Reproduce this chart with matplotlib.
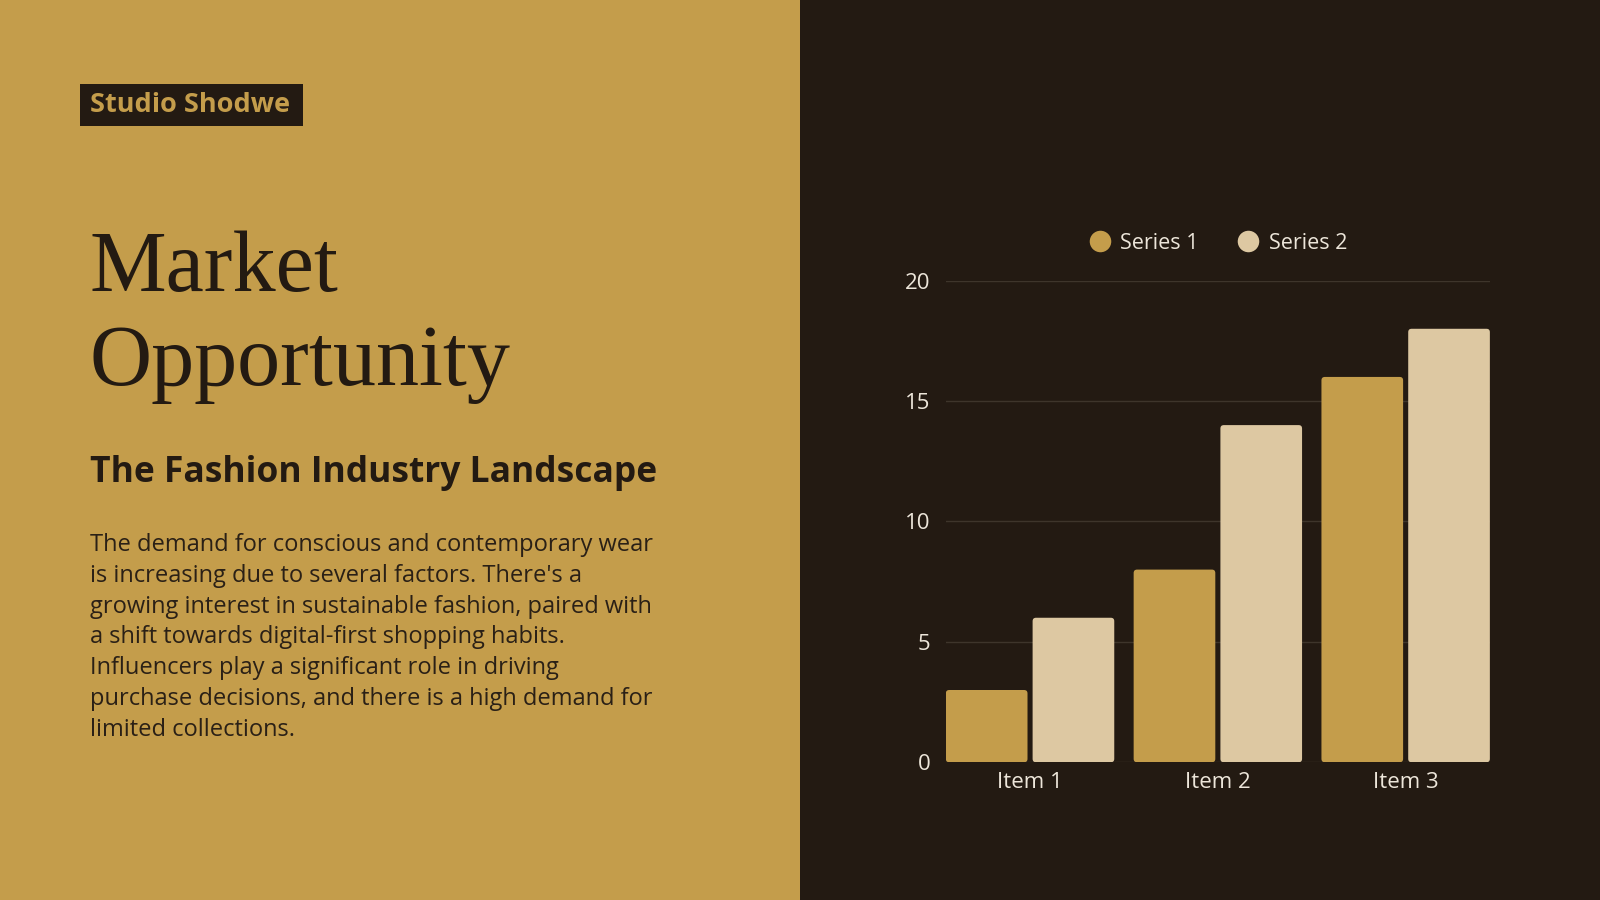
import matplotlib.pyplot as plt
from matplotlib.patches import Rectangle, FancyBboxPatch
from matplotlib.lines import Line2D
import numpy as np

# data
items = ["Item 1", "Item 2", "Item 3"]
series_1 = [3, 8, 16]
series_2 = [6, 14, 18]
series_names = ["Series 1", "Series 2"]
y_ticks = [0, 5, 10, 15, 20]

body_lines = [
    "The demand for conscious and contemporary wear",
    "is increasing due to several factors. There's a",
    "growing interest in sustainable fashion, paired with",
    "a shift towards digital-first shopping habits.",
    "Influencers play a significant role in driving",
    "purchase decisions, and there is a high demand for",
    "limited collections.",
]

GOLD = "#C49D4B"
DARK = "#231A12"
CREAM = "#DDC8A2"
TEXT_LIGHT = "#EDE6DA"
GRID = "#3E352B"

W, H = 1568, 882


def fx(x):
    return x / W


def fy(y):
    return 1 - y / H


plt.rcParams['font.family'] = ['Open Sans', 'DejaVu Sans']

fig = plt.figure(figsize=(16, 9), dpi=100)
fig.patch.set_facecolor(DARK)

# left panel
fig.patches.append(Rectangle((0, 0), 0.5, 1, transform=fig.transFigure,
                             facecolor=GOLD, edgecolor="none", zorder=0))

# brand tag
fig.patches.append(Rectangle((fx(78), fy(123)), fx(297) - fx(78), fy(82) - fy(123),
                             transform=fig.transFigure, facecolor=DARK,
                             edgecolor="none", zorder=1))
fig.text(fx(88), fy(103), "Studio Shodwe", color=GOLD, fontsize=19.5,
         fontweight="bold", va="center", ha="left", zorder=2)

# title
title_font = ["Liberation Serif", "DejaVu Serif"]
fig.text(fx(88), fy(285), "Market", color=DARK, fontsize=62,
         family=title_font, va="baseline", ha="left")
fig.text(fx(88), fy(377), "Opportunity", color=DARK, fontsize=62,
         family=title_font, va="baseline", ha="left")

fig.text(fx(88), fy(472), "The Fashion Industry Landscape", color=DARK,
         fontsize=25.5, fontweight="bold", va="baseline", ha="left")

for i, line in enumerate(body_lines):
    fig.text(fx(88), fy(540 + 30.2 * i), line, color="#2A2016", fontsize=17,
             va="baseline", ha="left")

# chart
ax = fig.add_axes([fx(927), fy(747), fx(1460) - fx(927), fy(275) - fy(747)])
ax.set_facecolor(DARK)

x = np.arange(len(items))
bw = 80 / 184
off = 85 / 184 / 2
bars1 = ax.bar(x - off, series_1, bw, color=GOLD, zorder=3)
bars2 = ax.bar(x + off, series_2, bw, color=CREAM, zorder=3)

# round the bar corners a little
for bars in (bars1, bars2):
    for b in bars:
        b.set_visible(False)
        r = FancyBboxPatch((b.get_x(), b.get_y()), b.get_width(), b.get_height(),
                           boxstyle="round,pad=0,rounding_size=0.018",
                           mutation_aspect=7.8, facecolor=b.get_facecolor(),
                           edgecolor="none", zorder=3)
        ax.add_patch(r)

ax.set_xlim(-0.448, 2.448)
ax.set_ylim(0, 20)
ax.set_yticks(y_ticks)
ax.set_xticks(x)
ax.set_xticklabels(items)
ax.yaxis.grid(True, color=GRID, linewidth=1)
ax.set_axisbelow(True)
for s in ax.spines.values():
    s.set_visible(False)
ax.tick_params(length=0, colors=TEXT_LIGHT, labelsize=16)
ax.tick_params(axis="y", pad=11)
ax.tick_params(axis="x", pad=7)

handles = [Line2D([], [], marker="o", linestyle="none", markersize=15.5,
                  markerfacecolor=c, markeredgecolor="none")
           for c in (GOLD, CREAM)]
ax.legend(handles, series_names, loc="center", bbox_to_anchor=(0.5, 1.078),
          ncol=2, frameon=False, fontsize=15.5, labelcolor=TEXT_LIGHT,
          handletextpad=0.45, columnspacing=1.8, handlelength=1.0)

fig.savefig("out.png", dpi=100, facecolor=fig.get_facecolor())
